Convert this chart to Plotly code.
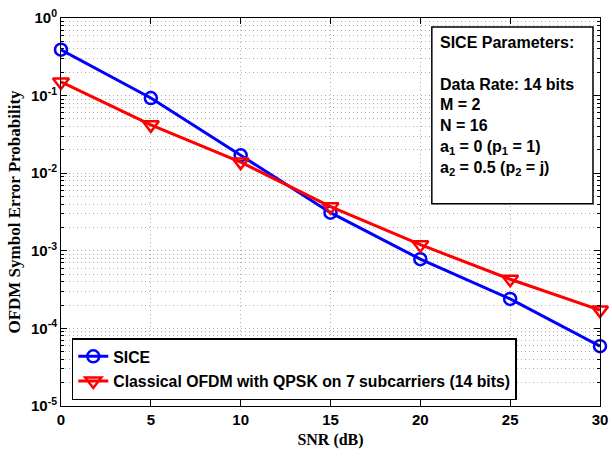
import plotly.graph_objects as go

snr_db = [0, 5, 10, 15, 20, 25, 30]
sice_ser = [0.39, 0.093, 0.017, 0.0031, 7.8e-4, 2.4e-4, 5.9e-5]
classical_ser = [0.15, 0.042, 0.0139, 0.0037, 1.2e-3, 4.3e-4, 1.72e-4]

y_tick_vals = [1e0, 1e-1, 1e-2, 1e-3, 1e-4, 1e-5]
y_tick_text = ["10<sup>0</sup>", "10<sup>-1</sup>", "10<sup>-2</sup>",
               "10<sup>-3</sup>", "10<sup>-4</sup>", "10<sup>-5</sup>"]
x_tick_vals = [0, 5, 10, 15, 20, 25, 30]

series_names = ["SICE", "Classical OFDM with QPSK on 7 subcarriers (14 bits)"]
param_lines = [
    "SICE Parameters:",
    "",
    "Data Rate: 14 bits",
    "M = 2",
    "N = 16",
    "a<sub>1</sub> = 0 (p<sub>1</sub> = 1)",
    "a<sub>2</sub> = 0.5 (p<sub>2</sub> = j)",
]

SANS = "Liberation Sans, Arial, sans-serif"
SERIF = "Liberation Serif, Times New Roman, serif"

fig = go.Figure()
fig.add_trace(go.Scatter(
    x=snr_db, y=sice_ser, name=series_names[0], mode="lines+markers",
    line=dict(color="#0000ff", width=3),
    marker=dict(symbol="circle-open", size=12, color="#0000ff", line=dict(width=2.5, color="#0000ff")),
    cliponaxis=False, legendgroup="a",
))
fig.add_trace(go.Scatter(
    x=snr_db, y=classical_ser, name=series_names[1], mode="lines+markers",
    line=dict(color="#ff0000", width=3),
    marker=dict(symbol="triangle-down-open", size=14, color="#ff0000", line=dict(width=2.5, color="#ff0000")),
    cliponaxis=False, legendgroup="b",
))

grid_col = "#b0b0b0"
grid_dash = "1px,3px"
fig.update_layout(
    width=612, height=459, autosize=False,
    margin=dict(l=61, r=12, t=18, b=53),
    paper_bgcolor="white", plot_bgcolor="white",
    showlegend=True,
    legend=dict(
        x=0.02, y=0.175, xanchor="left", yanchor="top",
        bgcolor="white", bordercolor="black", borderwidth=1.5,
        font=dict(family=SANS, size=15.8, color="black", weight="bold"),
        tracegroupgap=1,
    ),
    xaxis=dict(
        range=[0, 30], tickvals=x_tick_vals, automargin=False,
        ticks="inside", ticklen=6, tickcolor="black", mirror="allticks",
        showline=True, linecolor="black", linewidth=1,
        showgrid=True, gridcolor=grid_col, griddash=grid_dash, gridwidth=1,
        zeroline=False,
        tickfont=dict(family=SANS, size=15, color="black", weight="bold"),
        title=dict(text="SNR (dB)", font=dict(family=SERIF, size=16, color="black", weight="bold"), standoff=6),
    ),
    yaxis=dict(
        type="log", range=[-5, 0], automargin=False,
        tickvals=y_tick_vals, ticktext=y_tick_text,
        ticks="inside", ticklen=6, tickcolor="black", mirror="allticks",
        showline=True, linecolor="black", linewidth=1,
        showgrid=True, gridcolor=grid_col, griddash=grid_dash, gridwidth=1,
        zeroline=False,
        tickfont=dict(family=SANS, size=15, color="black", weight="bold"),
        title=dict(text="OFDM Symbol Error Probability", font=dict(family=SERIF, size=17, color="black", weight="bold"), standoff=6),
        minor=dict(dtick="D1", ticks="inside", ticklen=3, tickcolor="black",
                   showgrid=True, gridcolor=grid_col, griddash=grid_dash, gridwidth=1),
    ),
)

fig.add_shape(type="rect", xref="paper", yref="paper",
              x0=0.688, x1=0.987, y0=0.521, y1=0.977,
              line=dict(color="black", width=1.5), fillcolor="white", layer="above")
fig.add_annotation(
    xref="paper", yref="paper", x=0.699, y=0.963, xanchor="left", yanchor="top",
    text="<br>".join(param_lines), align="left", showarrow=False,
    font=dict(family=SANS, size=16, color="black", weight="bold"),
)

fig.write_html("out.html", config={"displayModeBar": False},
               post_script="document.body.style.margin='0';")
